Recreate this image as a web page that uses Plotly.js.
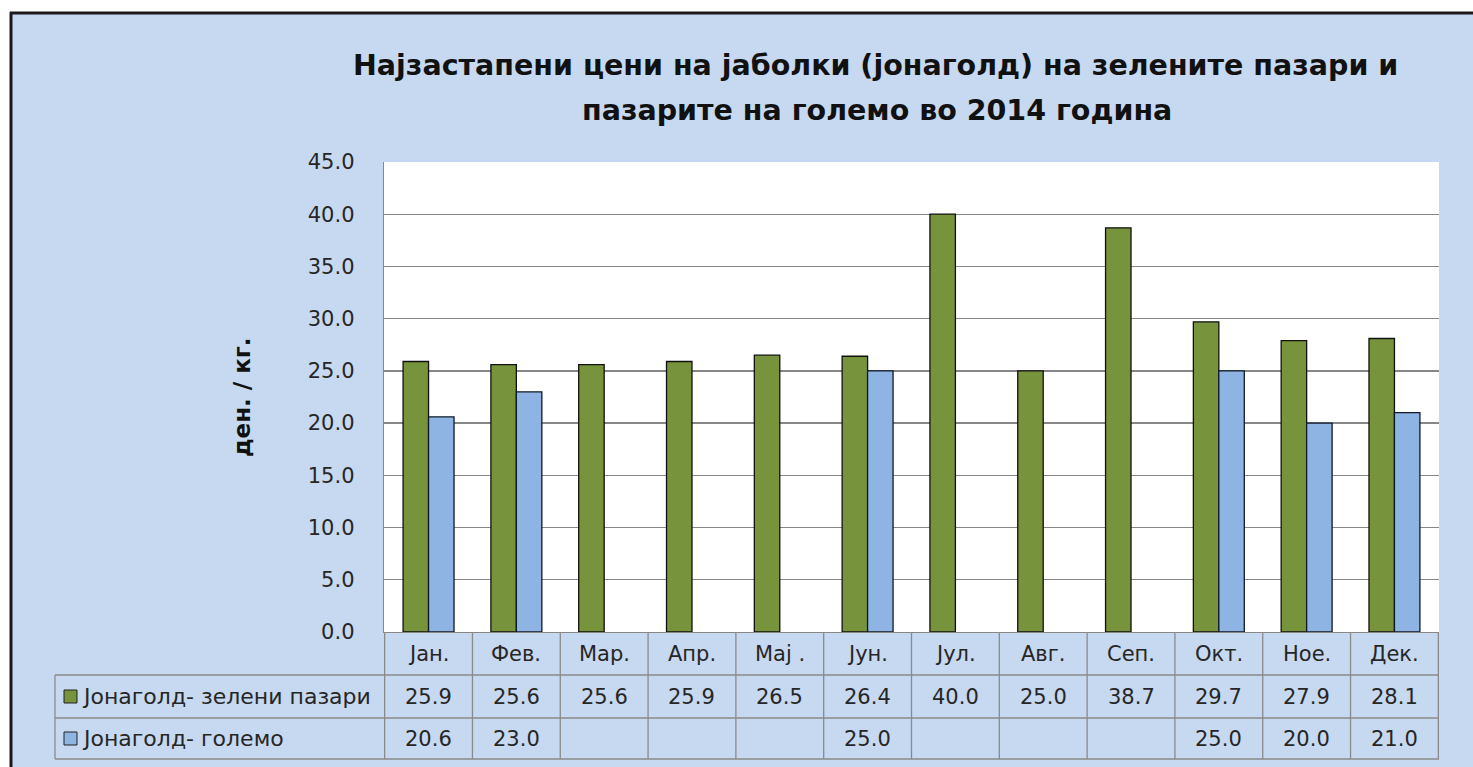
<!DOCTYPE html>
<html>
<head>
<meta charset="utf-8">
<script src="https://cdn.plot.ly/plotly-3.0.1.min.js"></script>
<style>
html,body{margin:0;padding:0;background:#ffffff;}
#chart{width:1473px;height:767px;}
</style>
</head>
<body>
<div id="chart"></div>
<script>
// ---- data ----
const months = ["Јан.", "Фев.", "Мар.", "Апр.", "Мај .", "Јун.", "Јул.", "Авг.", "Сеп.", "Окт.", "Ное.", "Дек."];
const greenName = "Јонаголд- зелени пазари";
const blueName = "Јонаголд- големо";
const greenValues = [25.9, 25.6, 25.6, 25.9, 26.5, 26.4, 40.0, 25.0, 38.7, 29.7, 27.9, 28.1];
const blueValues = [20.6, 23.0, null, null, null, 25.0, null, null, null, 25.0, 20.0, 21.0];
const yTickValues = [0, 5, 10, 15, 20, 25, 30, 35, 40, 45];
const titleLines = ["Најзастапени цени на јаболки (јонаголд) на зелените пазари и", "пазарите на големо во 2014 година"];
const yTitle = "ден. / кг.";

// ---- geometry helpers (pixel -> paper) ----
const W = 1473, H = 767;
const PL = 384, PR = 1439, PT = 162, PB = 632;
const px = x => (x - PL) / (PR - PL);
const py = y => (PB - y) / (PB - PT);

const GREEN = "#77933C", BLUE = "#8EB4E3", BG = "#C6D9F0", GRID = "#878787";
const FONT = "DejaVu Sans";

const traces = [
  {type: "bar", name: greenName, x: months, y: greenValues,
   marker: {color: GREEN, line: {color: "#111111", width: 1.3}}, hoverinfo: "x+y"},
  {type: "bar", name: blueName, x: months, y: blueValues,
   marker: {color: BLUE, line: {color: "#111827", width: 1.3}}, hoverinfo: "x+y"}
];

const shapes = [];
const annotations = [];

// outer white margin + black frame
shapes.push({type: "rect", xref: "paper", yref: "paper", x0: px(-5), x1: px(10), y0: py(H + 5), y1: py(-5), fillcolor: "#ffffff", line: {width: 0}, layer: "below"});
shapes.push({type: "rect", xref: "paper", yref: "paper", x0: px(-5), x1: px(W + 5), y0: py(12), y1: py(-5), fillcolor: "#ffffff", line: {width: 0}, layer: "below"});
shapes.push({type: "line", xref: "paper", yref: "paper", x0: px(11), x1: px(11), y0: py(12), y1: py(H + 5), line: {color: "#1a1a1a", width: 3}});
shapes.push({type: "line", xref: "paper", yref: "paper", x0: px(10), x1: px(W + 5), y0: py(13), y1: py(13), line: {color: "#1a1a1a", width: 3}});

// data table under the plot
const rowY = [632, 675, 718, 759];
const tableLeft = 55;
const LINE = {color: "#8a8a8a", width: 1.3};
for (let i = 0; i <= months.length; i++) {
  shapes.push({type: "line", xref: "x", yref: "paper", x0: i - 0.5, x1: i - 0.5, y0: py(rowY[0]), y1: py(rowY[3]), line: LINE});
}
for (let r = 1; r < rowY.length; r++) {
  shapes.push({type: "line", xref: "paper", yref: "paper", x0: px(tableLeft), x1: 1, y0: py(rowY[r]), y1: py(rowY[r]), line: LINE});
}
shapes.push({type: "line", xref: "paper", yref: "paper", x0: px(tableLeft), x1: px(tableLeft), y0: py(rowY[1]), y1: py(rowY[3]), line: LINE});

const cellFont = {family: FONT, size: 21, color: "#262626"};
months.forEach((m, i) => {
  annotations.push({xref: "x", yref: "paper", x: i, y: py((rowY[0] + rowY[1]) / 2), text: m, showarrow: false, font: cellFont, xanchor: "center", yanchor: "middle"});
  annotations.push({xref: "x", yref: "paper", x: i, y: py((rowY[1] + rowY[2]) / 2), text: greenValues[i] == null ? "" : greenValues[i].toFixed(1), showarrow: false, font: cellFont, xanchor: "center", yanchor: "middle"});
  if (blueValues[i] != null) {
    annotations.push({xref: "x", yref: "paper", x: i, y: py((rowY[2] + rowY[3]) / 2), text: blueValues[i].toFixed(1), showarrow: false, font: cellFont, xanchor: "center", yanchor: "middle"});
  }
});

// legend keys inside the table
[[greenName, GREEN, 1], [blueName, BLUE, 2]].forEach(([name, col, r]) => {
  const cy = (rowY[r] + rowY[r + 1]) / 2;
  shapes.push({type: "rect", xref: "paper", yref: "paper", x0: px(64), x1: px(77), y0: py(cy + 6.5), y1: py(cy - 6.5), fillcolor: col, line: {color: "#222222", width: 1}});
  annotations.push({xref: "paper", yref: "paper", x: px(80), y: py(cy), text: name, showarrow: false, font: {family: FONT, size: 22, color: "#262626"}, xanchor: "left", yanchor: "middle"});
});

// titles
annotations.push({xref: "paper", yref: "paper", x: px(875), y: py(66), text: "<b>" + titleLines[0] + "</b>", showarrow: false, font: {family: FONT, size: 28.5, color: "#111111"}, xanchor: "center", yanchor: "middle"});
annotations.push({xref: "paper", yref: "paper", x: px(877), y: py(110), text: "<b>" + titleLines[1] + "</b>", showarrow: false, font: {family: FONT, size: 28.5, color: "#111111"}, xanchor: "center", yanchor: "middle"});
annotations.push({xref: "paper", yref: "paper", x: px(242), y: py(397), text: "<b>" + yTitle + "</b>", textangle: -90, showarrow: false, font: {family: FONT, size: 23, color: "#111111"}, xanchor: "center", yanchor: "middle"});

const layout = {
  width: W, height: H,
  margin: {l: PL, r: W - PR, t: PT, b: H - PB, pad: 0},
  paper_bgcolor: BG,
  plot_bgcolor: "#ffffff",
  showlegend: false,
  barmode: "group",
  bargap: 0.42,
  bargroupgap: 0,
  font: {family: FONT, size: 21, color: "#262626"},
  xaxis: {type: "category", showticklabels: false, ticks: "", showgrid: false, zeroline: false,
          showline: true, linecolor: GRID, linewidth: 1.3, fixedrange: true},
  yaxis: {range: [0, 45], tickvals: yTickValues, ticktext: yTickValues.map(v => v.toFixed(1)),
          showgrid: true, gridcolor: GRID, gridwidth: 1.3, zeroline: false,
          showline: true, linecolor: GRID, linewidth: 1.3, mirror: false,
          ticks: "", ticklabelstandoff: 24, tickfont: {family: FONT, size: 21, color: "#262626"}, fixedrange: true},
  shapes: shapes,
  annotations: annotations
};

Plotly.newPlot("chart", traces, layout, {displayModeBar: false, staticPlot: true});
</script>
</body>
</html>
